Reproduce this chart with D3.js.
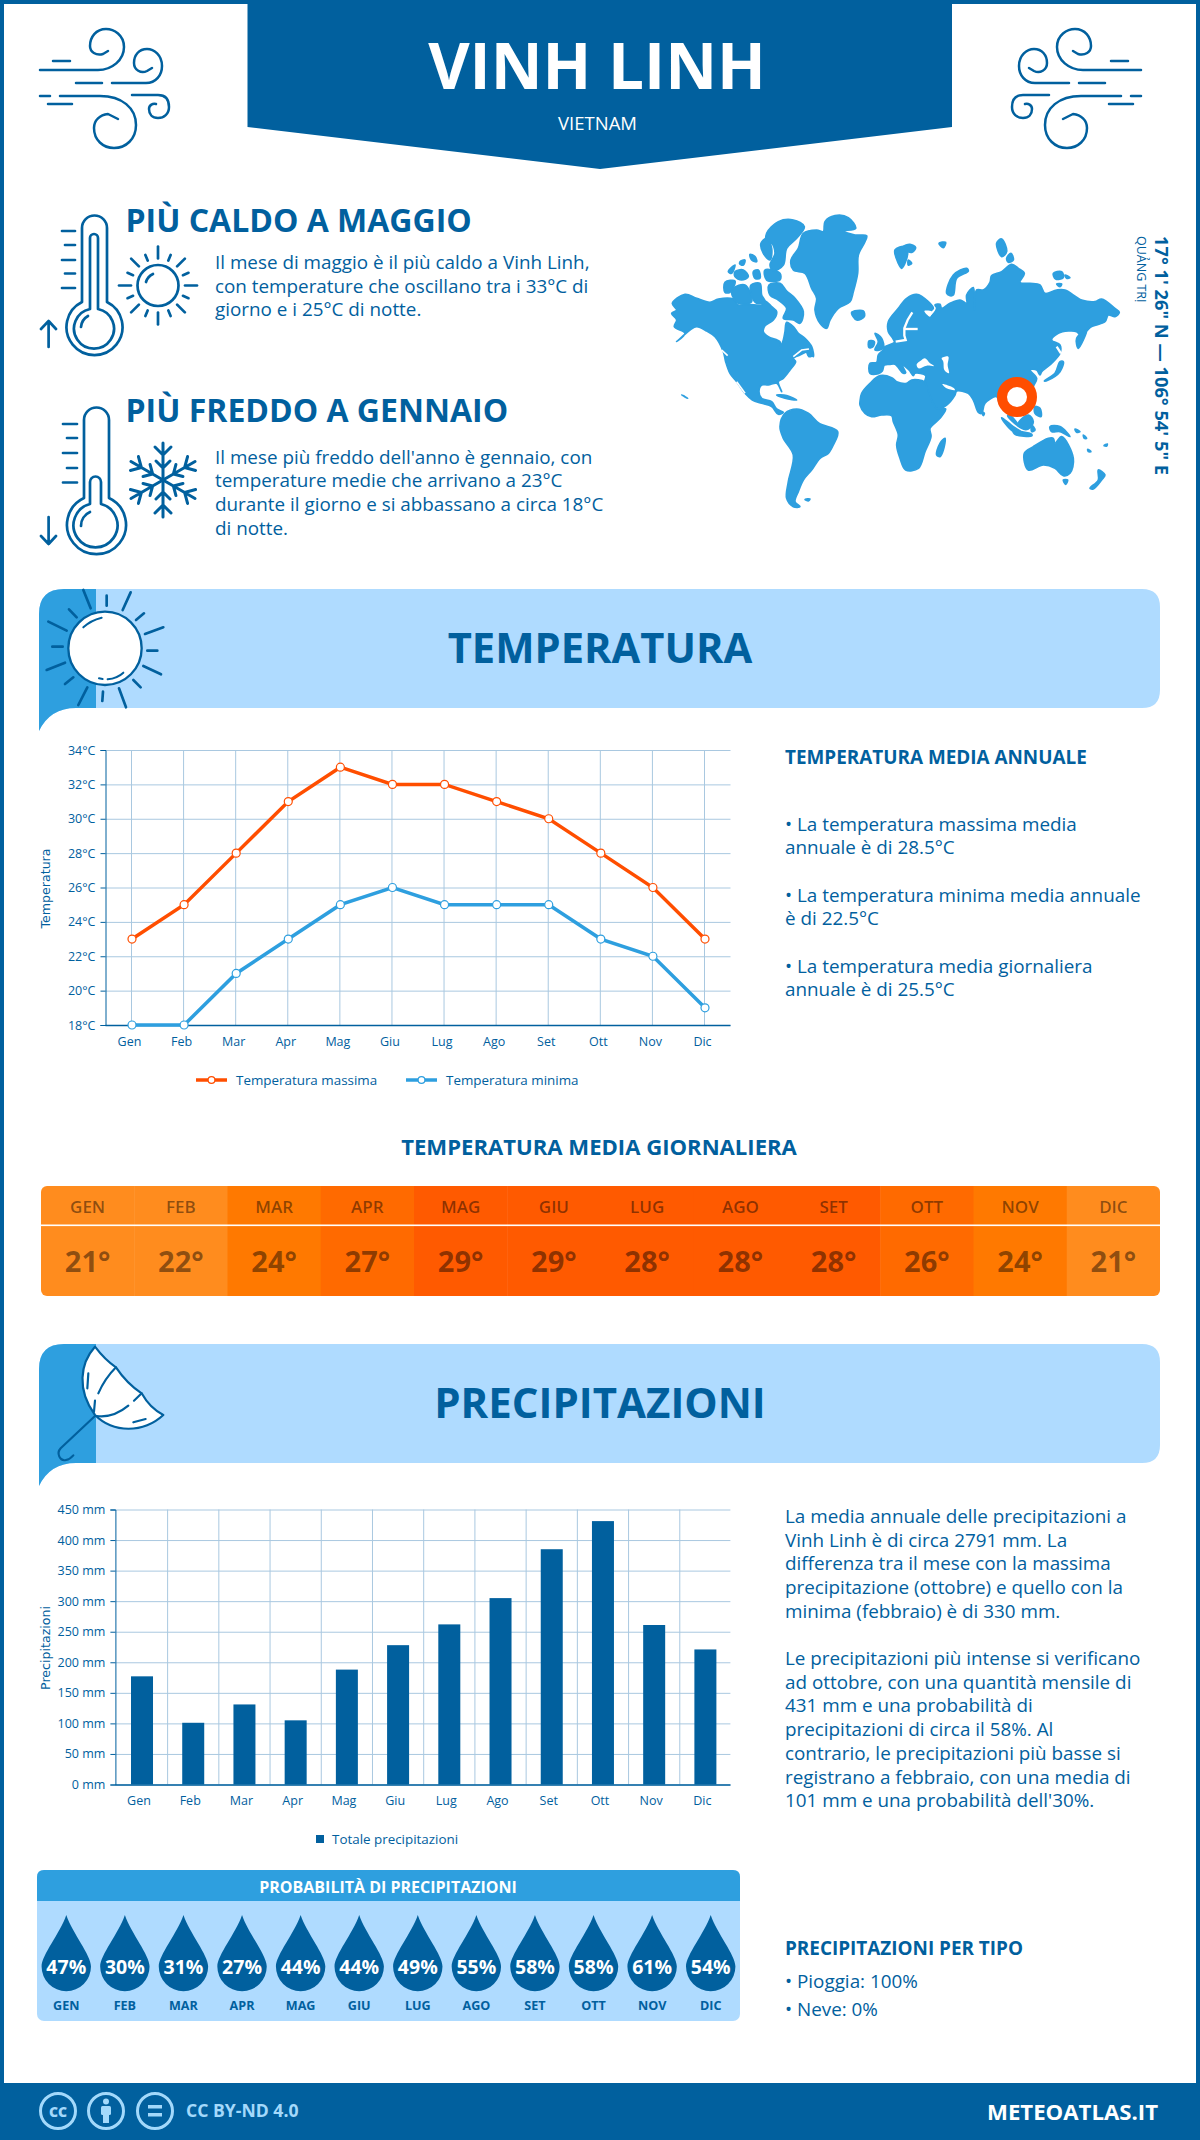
<!DOCTYPE html>
<html>
<head>
<meta charset="utf-8">
<title>Vinh Linh</title>
<script src="https://cdn.jsdelivr.net/npm/d3@7/dist/d3.min.js"></script>
<style>
  html, body { margin: 0; padding: 0; background: #fff; }
  svg { display: block; }
  text { font-family: "Open Sans", sans-serif; }
</style>
</head>
<body>
<svg id="page" width="1200" height="2140" viewBox="0 0 1200 2140"></svg>
<script>
// Data
const months = ['Gen', 'Feb', 'Mar', 'Apr', 'Mag', 'Giu', 'Lug', 'Ago', 'Set', 'Ott', 'Nov', 'Dic']
const tempMax = [23, 25, 28, 31, 33, 32, 32, 31, 30, 28, 26, 23]
const tempMin = [18, 18, 21, 23, 25, 26, 25, 25, 25, 23, 22, 19]
const tempDaily = [21, 22, 24, 27, 29, 29, 28, 28, 28, 26, 24, 21]
const rainTotal = [177, 101, 131, 105, 188, 228, 262, 305, 385, 431, 261, 221]
const rainChance = [47, 30, 31, 27, 44, 44, 49, 55, 58, 58, 61, 54]
const tempTicks = [18, 20, 22, 24, 26, 28, 30, 32, 34]
const rainTicks = [0, 50, 100, 150, 200, 250, 300, 350, 400, 450]

const hotText = ['Il mese di maggio è il più caldo a Vinh Linh,', 'con temperature che oscillano tra i 33°C di', 'giorno e i 25°C di notte.']
const coldText = ["Il mese più freddo dell'anno è gennaio, con", 'temperature medie che arrivano a 23°C', 'durante il giorno e si abbassano a circa 18°C', 'di notte.']
const annualText = [
  ['• La temperatura massima media', 'annuale è di 28.5°C'],
  ['• La temperatura minima media annuale', 'è di 22.5°C'],
  ['• La temperatura media giornaliera', 'annuale è di 25.5°C'],
]
const rainTextA = ['La media annuale delle precipitazioni a', 'Vinh Linh è di circa 2791 mm. La', 'differenza tra il mese con la massima', 'precipitazione (ottobre) e quello con la', 'minima (febbraio) è di 330 mm.']
const rainTextB = ['Le precipitazioni più intense si verificano', 'ad ottobre, con una quantità mensile di', '431 mm e una probabilità di', 'precipitazioni di circa il 58%. Al', 'contrario, le precipitazioni più basse si', 'registrano a febbraio, con una media di', "101 mm e una probabilità dell'30%."]

// Map outlines, in crop units (3 = 1px)
const landWest = [
  [[22,295],[60,268],[95,280],[135,292],[160,282],[205,282],[220,300],[250,298],[290,300],[300,288],[320,305],[335,320],[325,345],[300,362],[295,380],[310,395],[345,410],[345,428],[355,405],[360,380],[365,352],[385,365],[400,385],[420,400],[440,425],[445,455],[430,440],[405,450],[385,460],[392,470],[375,495],[355,520],[340,530],[350,560],[335,535],[310,540],[290,540],[282,560],[290,580],[320,590],[335,612],[355,622],[340,628],[320,605],[290,595],[262,585],[240,565],[215,530],[195,505],[182,470],[175,440],[150,395],[125,378],[95,365],[75,375],[35,410],[60,385],[28,365],[35,345],[20,325],[35,315]],
  [[312,240],[345,235],[365,258],[390,280],[415,320],[405,355],[385,345],[355,340],[365,310],[340,285],[315,270]],
  [[205,250],[240,240],[260,290],[220,295],[200,265]],
  [[180,232],[210,228],[195,262],[180,262]],
  [[258,240],[285,235],[290,270],[300,290],[275,295],[258,265]],
  [[305,85],[340,50],[385,45],[418,65],[395,100],[365,130],[355,180],[325,198],[315,180],[330,145],[320,115],[305,115]],
  [[288,115],[305,100],[320,130],[315,165],[295,145]],
  [[300,195],[345,205],[345,225],[305,225]],
  [[210,200],[235,195],[250,215],[230,225],[210,215]],
  [[190,200],[210,180],[200,205]],
  [[265,200],[280,195],[285,220],[270,220]],
  [[225,170],[240,165],[235,180],[225,178]],
  [[255,148],[270,155],[275,170],[260,165]],
  [[425,435],[445,450],[432,455]],
  [[378,165],[400,130],[415,85],[455,75],[475,80],[480,50],[510,32],[550,38],[572,70],[535,78],[570,90],[605,92],[600,110],[580,150],[578,205],[565,260],[555,290],[520,310],[495,345],[485,370],[465,355],[450,315],[455,280],[440,250],[420,205],[385,195]],
  [[560,322],[595,318],[598,335],[575,345]],
  [[345,665],[360,625],[395,612],[430,625],[462,655],[518,680],[505,720],[490,745],[465,760],[440,795],[415,825],[400,860],[390,890],[405,905],[385,905],[365,880],[370,830],[385,750],[355,700]],
  [[420,883],[435,882],[430,888]],
  [[335,570],[365,572],[395,585],[360,580]],
  [[50,570],[68,580],[60,575]],
]
const landEast = [
  [[-45,505],[-45,475],[-25,472],[-20,450],[-5,435],[0,425],[28,412],[22,398],[10,380],[10,350],[40,310],[65,280],[95,268],[130,290],[145,310],[130,320],[120,318],[135,335],[155,310],[150,300],[165,298],[170,310],[195,295],[225,285],[245,295],[245,270],[265,248],[268,315],[275,255],[295,255],[315,232],[320,212],[350,200],[380,178],[400,190],[418,205],[405,232],[435,235],[465,240],[480,265],[515,255],[540,255],[590,285],[630,290],[650,282],[690,310],[703,322],[690,335],[670,330],[660,350],[620,365],[605,378],[590,395],[575,380],[550,378],[520,385],[500,405],[525,420],[525,445],[500,475],[470,500],[465,510],[455,495],[435,495],[455,520],[445,545],[440,580],[450,590],[430,610],[380,625],[368,632],[395,660],[405,668],[385,640],[345,600],[335,575],[300,595],[290,625],[280,622],[265,585],[250,565],[215,558],[210,570],[185,600],[157,612],[125,550],[118,535],[122,512],[90,505],[85,512],[72,495],[50,478],[62,503],[55,505],[30,478],[15,478],[-2,480],[-8,498],[-20,506]],
  [[-75,590],[-70,565],[-45,535],[-15,512],[20,518],[35,530],[65,535],[80,525],[118,530],[125,545],[155,610],[182,612],[165,640],[135,670],[138,695],[120,740],[100,790],[62,795],[45,760],[35,720],[40,690],[25,650],[20,632],[-10,630],[-40,635],[-60,625],[-75,600]],
  [[165,715],[180,700],[175,735],[165,755],[155,750]],
  [[418,745],[445,725],[490,700],[505,700],[510,715],[530,695],[565,760],[555,805],[535,812],[510,790],[475,780],[430,795]],
  [[535,825],[548,825],[542,838]],
  [[640,795],[660,810],[650,825],[625,852],[615,850],[640,825]],
  [[478,528],[510,505],[525,470],[535,470],[525,500],[490,525]],
  [[575,400],[605,375],[595,405],[580,430]],
  [[350,638],[385,665],[420,688],[385,680],[360,655]],
  [[385,680],[440,688],[440,693],[390,688]],
  [[400,655],[430,630],[445,650],[430,672],[410,670]],
  [[440,660],[450,675],[440,680]],
  [[495,665],[525,665],[555,695],[525,680],[500,680]],
  [[450,605],[465,610],[468,635],[450,625]],
  [[290,620],[298,625],[295,632]],
  [[185,265],[205,210],[245,190],[250,198],[215,220],[205,270],[195,272]],
  [[30,135],[60,125],[68,145],[50,190],[40,175]],
  [[55,125],[75,118],[92,128],[80,142],[62,135]],
  [[70,165],[80,175],[70,180]],
  [[162,115],[182,112],[175,128]],
  [[335,115],[350,102],[365,140],[350,155]],
  [[365,160],[378,145],[385,165],[370,172]],
  [[505,205],[530,200],[535,218],[512,222]],
  [[540,210],[555,218],[545,220]],
  [[515,237],[530,237],[525,245]],
  [[-30,385],[-10,400],[-5,430],[-30,435],[-20,410]],
  [[-48,408],[-32,410],[-36,425],[-48,428]],
  [[570,672],[585,680],[575,682]],
  [[595,690],[605,700],[598,700]],
  [[608,733],[618,740],[610,740]],
  [[657,722],[667,717],[665,723]],
]
const seasEast = [
  [[95,478],[110,465],[120,460],[135,475],[147,483],[125,482],[100,490]],
  [[170,460],[190,455],[188,480],[192,505],[178,495],[175,470]],
  [[118,318],[140,320],[135,335]],
  [[172,537],[185,550],[210,555],[205,548]],
]
// narrow water drawn as strokes
const channelsEast = [
  [[82,322],[68,345],[58,370],[58,392],[62,405],[32,410]],
  [[58,372],[98,372]],
  [[515,425],[528,445]],
]
const channelsWest = [
  [[215,530],[240,565]],
  [[170,435],[188,452]],
  [[385,455],[410,435],[432,432]],
]

const BLUE = '#01609e'
const SKY = '#2e9fdf'
const PALE = '#afdbff'
const ORANGE = '#ff4e00'
const GRID = '#a9c8e0'

const svg = d3.select('#page')
svg.append('rect').attr('width', 1200).attr('height', 2140).attr('fill', '#fff')

/*----------------------------------------------------------------------------*/

const label = (parent, str, x, y, size, opts = {}) => parent.append('text')
  .attr('x', x)
  .attr('y', y)
  .attr('font-size', size)
  .attr('font-weight', opts.weight || 400)
  .attr('fill', opts.fill || BLUE)
  .attr('text-anchor', opts.anchor || 'start')
  .text(str)

const lines = (parent, rows, x, y, size, step) => rows.forEach((r, i) => label(parent, r, x, y + i * step, size))

const stroked = (parent, width = 2) => parent.append('g')
  .attr('fill', 'none')
  .attr('stroke', BLUE)
  .attr('stroke-width', width)
  .attr('stroke-linecap', 'round')
  .attr('stroke-linejoin', 'round')

/*---- header ----*/

svg.append('rect').attr('x', 2).attr('y', 2).attr('width', 1196).attr('height', 2136)
  .attr('fill', 'none').attr('stroke', BLUE).attr('stroke-width', 4)
svg.append('path').attr('d', 'M247.5 0H952V127L600 169L247.5 127Z').attr('fill', BLUE)
label(svg, 'VINH LINH', 597, 89, 63.8, { weight: 700, fill: '#fff', anchor: 'middle' })
label(svg, 'VIETNAM', 597.5, 130, 18.5, { fill: '#fff', anchor: 'middle' })

const drawWind = g => {
  g.append('path').attr('d', 'M40 70H98C112 70 124 60 124 47C124 35 114 29 106 29C96 29 90 37 90 46C90 52 96 56 103 54L108 51')
  g.append('path').attr('d', 'M53 61H70M76 83H102M40 96H50M48 104H72')
  g.append('path').attr('d', 'M112 83H146C156 83 162 75 162 66C162 55 154 49 147 49C139 49 134 55 134 63C134 70 141 74 147 71L152 68')
  g.append('path').attr('d', 'M60 96H100C122 96 136 108 136 125C136 139 126 148 114 148C103 148 94 140 94 128C94 120 100 115 108 114L118 119')
  g.append('path').attr('d', 'M132 95H158C166 95 169 100 169 107C169 114 164 118 158 118C152 118 149 114 149 109C149 105 153 103 156 104')
}
drawWind(stroked(svg, 2.5))
drawWind(stroked(svg, 2.5).attr('transform', 'translate(1181,0) scale(-1,1)'))

/*---- hottest / coldest ----*/

const hotIcon = stroked(svg, 2.7)
hotIcon.append('path').attr('d', 'M82 302V228A12.5 12.5 0 0 1 107 228V302A28 28 0 1 1 82 302Z')
hotIcon.append('path').attr('d', 'M90 309V238A4 4 0 0 1 98 238V309A20 20 0 1 1 90 309Z')
hotIcon.append('path').attr('d', 'M81 327A14 14 0 0 1 88 316')
hotIcon.append('path').attr('d', 'M62 231H75M65 245H75M62 260H75M65 273.5H75M62 288H75M48.6 347V321M41 329L48.6 321L56 329')
hotIcon.append('circle').attr('cx', 158).attr('cy', 285.5).attr('r', 20.5)
hotIcon.append('path').attr('d', 'M146 282A13 13 0 0 1 153 274')
d3.range(16).forEach(i => {
  const a = i * Math.PI / 8
  const outer = i % 4 === 0 ? 39 : (i % 2 === 0 ? 38 : 33)
  hotIcon.append('line')
    .attr('x1', 158 + 27 * Math.cos(a)).attr('y1', 285.5 + 27 * Math.sin(a))
    .attr('x2', 158 + outer * Math.cos(a)).attr('y2', 285.5 + outer * Math.sin(a))
})

const coldIcon = stroked(svg, 2.7)
coldIcon.append('path').attr('d', 'M84 498V420A12.5 12.5 0 0 1 109 420V498A29.5 29.5 0 1 1 84 498Z')
coldIcon.append('path').attr('d', 'M90 504V482A5.5 5.5 0 0 1 101 482V504A22 22 0 1 1 90 504Z')
coldIcon.append('path').attr('d', 'M81 526A15 15 0 0 1 90 512')
coldIcon.append('path').attr('d', 'M63 424H77M67 438H77M63 453H77M67 468H77M63 482.5H77M48.6 517V544M41 536L48.6 544L56 536')
d3.range(6).forEach(i => {
  const arm = coldIcon.append('g').attr('transform', `translate(163,480) rotate(${i * 60})`).attr('stroke-width', 3)
  arm.append('path').attr('d', 'M0 0V-37M-8 -33L0 -25L8 -33M-7 -19L0 -12L7 -19')
})

label(svg, 'PIÙ CALDO A MAGGIO', 125.5, 232, 32, { weight: 700 })
lines(svg, hotText, 215, 269, 18.85, 23.7)
label(svg, 'PIÙ FREDDO A GENNAIO', 125.5, 422, 32, { weight: 700 })
lines(svg, coldText, 215, 463.5, 18.85, 23.7)

/*---- world map ----*/

const ring = d3.line().curve(d3.curveCatmullRomClosed.alpha(0.5))
const open = d3.line()
const mapW = svg.append('g').attr('transform', 'translate(665,205) scale(0.3333)')
const mapE = svg.append('g').attr('transform', 'translate(885,205) scale(0.3333)')
mapW.selectAll('path.land').data(landWest).enter().append('path').attr('class', 'land').attr('d', ring)
  .attr('fill', SKY).attr('stroke', SKY).attr('stroke-width', 5).attr('stroke-linejoin', 'round')
mapW.selectAll('path.channel').data(channelsWest).enter().append('path').attr('class', 'channel').attr('d', open)
  .attr('fill', 'none').attr('stroke', '#fff').attr('stroke-width', 5)
mapE.selectAll('path.land').data(landEast).enter().append('path').attr('class', 'land').attr('d', ring)
  .attr('fill', SKY).attr('stroke', SKY).attr('stroke-width', 5).attr('stroke-linejoin', 'round')
mapE.selectAll('path.sea').data(seasEast).enter().append('path').attr('class', 'sea').attr('d', ring).attr('fill', '#fff')
mapE.selectAll('path.channel').data(channelsEast).enter().append('path').attr('class', 'channel').attr('d', open)
  .attr('fill', 'none').attr('stroke', '#fff').attr('stroke-width', 7)
svg.append('circle').attr('cx', 1017).attr('cy', 397).attr('r', 15)
  .attr('fill', '#fff').attr('stroke', ORANGE).attr('stroke-width', 10)

label(svg, '17° 1\' 26" N — 106° 54\' 5" E', 0, 0, 18.3, { weight: 700 })
  .attr('transform', 'translate(1155,236) rotate(90)')
label(svg, 'QUẢNG TRỊ', 0, 0, 12.5)
  .attr('transform', 'translate(1137,236) rotate(90)')

/*---- banners ----*/

const banner = (top, title, clipId, size) => {
  const g = svg.append('g').attr('transform', `translate(0,${top})`)
  const d = 'M39 142V25Q39 0 64 0H1142Q1160 0 1160 18V101Q1160 119 1142 119H76Q50 119 39 142Z'
  g.append('clipPath').attr('id', clipId).append('path').attr('d', d)
  g.append('path').attr('d', d).attr('fill', PALE)
  g.append('rect').attr('x', 39).attr('y', 0).attr('width', 57).attr('height', 142)
    .attr('fill', SKY).attr('clip-path', `url(#${clipId})`)
  label(g, title, 600, 74, size, { weight: 700, anchor: 'middle' })
  return g
}

const sunBanner = banner(589, 'TEMPERATURA', 'clipTemp', 41.7)
const sunIcon = stroked(sunBanner, 2).attr('transform', 'translate(30,-4) scale(0.3333)').attr('stroke-width', 8)
sunIcon.append('circle').attr('cx', 225).attr('cy', 190).attr('r', 110).attr('fill', '#fff').attr('stroke-width', 7)
const sunRays = [[160,15,182,70],[230,32,230,62],[302,22,278,75],[342,85,318,105],[400,127,345,147],[382,197,352,197],[393,268,340,243],[332,307,310,285],[288,367,267,310],[217,348,219,320],[145,360,172,307],[105,297,130,277],[50,255,105,233],[98,185,67,185],[110,137,55,110],[140,97,117,73]]
sunIcon.selectAll('line').data(sunRays).enter().append('line')
  .attr('x1', d => d[0]).attr('y1', d => d[1]).attr('x2', d => d[2]).attr('y2', d => d[3])
sunIcon.append('path').attr('d', 'M160 127Q182 106 215 98M233 283Q262 280 280 263M207 280L218 282').attr('stroke-width', 6)

const rainBanner = banner(1344, 'PRECIPITAZIONI', 'clipRain', 42)
const brolly = stroked(rainBanner, 2).attr('transform', 'translate(30,-4) scale(0.3333)').attr('stroke-width', 6.5)
brolly.append('path').attr('fill', '#fff')
  .attr('d', 'M195 20Q225 60 258 82Q290 130 335 160Q360 205 400 225C340 280 250 280 195 225C140 150 150 70 195 20Z')
brolly.append('path').attr('d', 'M258 82Q225 115 205 160M195 182L192 215M335 160L312 182M295 197C265 222 230 232 200 228M175 100L172 145M310 247L347 237')
brolly.append('path').attr('d', 'M195 228L92 325C78 340 90 365 108 360C118 358 125 352 130 346')

/*---- temperature chart ----*/

const tempX = d3.scalePoint().domain(months).range([132, 705])
const tempY = d3.scaleLinear().domain([18, 34]).range([1025, 750])

const styleAxis = g => {
  g.selectAll('text').attr('fill', BLUE).attr('font-size', 12.5).attr('font-family', '"Open Sans", sans-serif')
  g.selectAll('.tick line').attr('stroke', BLUE)
  g.select('.domain').attr('stroke', BLUE)
}

svg.append('g').attr('transform', 'translate(105.5,0)')
  .call(d3.axisLeft(tempY).tickValues(tempTicks).tickSize(-625).tickFormat(''))
  .call(g => g.select('.domain').remove())
  .call(g => g.selectAll('line').attr('stroke', GRID))
svg.append('g').attr('transform', 'translate(-1,750)')
  .call(d3.axisBottom(tempX).tickSize(275).tickFormat(''))
  .call(g => g.select('.domain').remove())
  .call(g => g.selectAll('line').attr('stroke', GRID))
svg.append('g').attr('transform', 'translate(105.5,0)')
  .call(d3.axisLeft(tempY).tickValues(tempTicks).tickSize(5).tickPadding(5).tickFormat(d => `${d}°C`))
  .call(styleAxis)
svg.append('g').attr('transform', 'translate(-3,1025)')
  .call(d3.axisBottom(tempX).tickSize(0).tickPadding(12))
  .call(styleAxis)
  .call(g => g.select('.domain').remove())
svg.append('line').attr('x1', 105.5).attr('x2', 730.5).attr('y1', 1025.5).attr('y2', 1025.5)
  .attr('stroke', BLUE).attr('stroke-width', 1.5)

const tempLine = d3.line().x((d, i) => tempX(months[i])).y(d => tempY(d))
const series = [[tempMax, ORANGE], [tempMin, SKY]]
series.forEach(([values, colour]) => {
  svg.append('path').datum(values).attr('d', tempLine)
    .attr('fill', 'none').attr('stroke', colour).attr('stroke-width', 3.5)
  svg.append('g').selectAll('circle').data(values).enter().append('circle')
    .attr('cx', (d, i) => tempX(months[i])).attr('cy', d => tempY(d)).attr('r', 4)
    .attr('fill', '#fff').attr('stroke', colour).attr('stroke-width', 1.2)
})

label(svg, 'Temperatura', 0, 0, 12.6, { anchor: 'middle' })
  .style('font-family', '"DejaVu Sans"')
  .attr('transform', 'translate(50,888.5) rotate(-90)')

const legendItems = [['Temperatura massima', ORANGE, 196], ['Temperatura minima', SKY, 406]]
legendItems.forEach(([name, colour, x]) => {
  svg.append('line').attr('x1', x).attr('x2', x + 31).attr('y1', 1080).attr('y2', 1080)
    .attr('stroke', colour).attr('stroke-width', 3.5)
  svg.append('circle').attr('cx', x + 15.5).attr('cy', 1080).attr('r', 3.4)
    .attr('fill', '#fff').attr('stroke', colour).attr('stroke-width', 1.2)
  label(svg, name, x + 40, 1084.5, 13.4)
})

/*---- annual text ----*/

label(svg, 'TEMPERATURA MEDIA ANNUALE', 785, 764, 18.9, { weight: 700 })
annualText.forEach((rows, i) => lines(svg, rows, 785, 830.7 + i * 71, 18.85, 23.7))

/*---- daily table ----*/

label(svg, 'TEMPERATURA MEDIA GIORNALIERA', 599, 1155, 22.1, { weight: 700, anchor: 'middle' })

const cellX = d3.scaleBand().domain(months).range([41, 1160])
const heat = d3.scaleThreshold().domain([24, 26, 28]).range(['#ff8c1e', '#ff7900', '#ff6a00', '#ff5a00'])

svg.append('clipPath').attr('id', 'clipTable').append('rect')
  .attr('x', 41).attr('y', 1186).attr('width', 1119).attr('height', 110).attr('rx', 6)
const table = svg.append('g').attr('clip-path', 'url(#clipTable)')
table.selectAll('rect.cell').data(tempDaily).enter().append('rect').attr('class', 'cell')
  .attr('x', (d, i) => cellX(months[i])).attr('y', 1186)
  .attr('width', cellX.bandwidth() + 0.5).attr('height', 110)
  .attr('fill', d => heat(d))
table.append('rect').attr('x', 41).attr('y', 1224.5).attr('width', 1119).attr('height', 1.6).attr('fill', '#fff')
table.selectAll('text.month').data(months).enter().append('text').attr('class', 'month')
  .attr('x', d => cellX(d) + cellX.bandwidth() / 2).attr('y', 1212.5)
  .attr('text-anchor', 'middle').attr('font-size', 17).attr('font-weight', 600)
  .attr('fill', '#000').attr('fill-opacity', 0.45)
  .text(d => d.toUpperCase())
table.selectAll('text.value').data(tempDaily).enter().append('text').attr('class', 'value')
  .attr('x', (d, i) => cellX(months[i]) + cellX.bandwidth() / 2).attr('y', 1271.5)
  .attr('text-anchor', 'middle').attr('font-size', 29).attr('font-weight', 700)
  .attr('fill', '#000').attr('fill-opacity', 0.45)
  .text(d => `${d}°`)

/*---- rain chart ----*/

const rainX = d3.scaleBand().domain(months).range([116.4, 731]).paddingInner(0).paddingOuter(0)
const rainY = d3.scaleLinear().domain([0, 450]).range([1784.5, 1509.5])

svg.append('g').attr('transform', 'translate(115.4,0)')
  .call(d3.axisLeft(rainY).tickValues(rainTicks).tickSize(-615).tickFormat(''))
  .call(g => g.select('.domain').remove())
  .call(g => g.selectAll('line').attr('stroke', GRID))
svg.append('g').selectAll('line').data(months.slice(1)).enter().append('line')
  .attr('x1', d => rainX(d)).attr('x2', d => rainX(d))
  .attr('y1', 1509.5).attr('y2', 1784.5).attr('stroke', GRID)

const barWidth = 22
svg.append('g').selectAll('rect').data(rainTotal).enter().append('rect')
  .attr('x', (d, i) => rainX(months[i]) + rainX.bandwidth() / 2 - barWidth / 2)
  .attr('y', d => rainY(d))
  .attr('width', barWidth)
  .attr('height', d => rainY(0) - rainY(d))
  .attr('fill', BLUE)

svg.append('g').attr('transform', 'translate(115.4,0)')
  .call(d3.axisLeft(rainY).tickValues(rainTicks).tickSize(5).tickPadding(5).tickFormat(d => `${d} mm`))
  .call(styleAxis)
svg.append('g').attr('transform', 'translate(-3,1784.5)')
  .call(d3.axisBottom(rainX).tickSize(0).tickPadding(12))
  .call(styleAxis)
  .call(g => g.select('.domain').remove())
svg.append('line').attr('x1', 115.4).attr('x2', 730.5).attr('y1', 1785).attr('y2', 1785)
  .attr('stroke', BLUE).attr('stroke-width', 1.5)

label(svg, 'Precipitazioni', 0, 0, 12.6, { anchor: 'middle' })
  .style('font-family', '"DejaVu Sans"')
  .attr('transform', 'translate(50,1648) rotate(-90)')

svg.append('rect').attr('x', 316).attr('y', 1835).attr('width', 8).attr('height', 8).attr('fill', BLUE)
label(svg, 'Totale precipitazioni', 332, 1843.5, 13.4)

lines(svg, rainTextA, 785, 1523, 18.85, 23.7)
lines(svg, rainTextB, 785, 1665, 18.85, 23.7)

/*---- rain chance ----*/

const chanceX = d3.scaleBand().domain(months).range([37, 740])

svg.append('rect').attr('x', 37).attr('y', 1870).attr('width', 703).attr('height', 151).attr('rx', 7).attr('fill', PALE)
svg.append('path').attr('d', 'M37 1901V1877Q37 1870 44 1870H733Q740 1870 740 1877V1901Z').attr('fill', SKY)
label(svg, 'PROBABILITÀ DI PRECIPITAZIONI', 388, 1892.5, 16, { weight: 700, fill: '#fff', anchor: 'middle' })

const drop = svg.append('g').selectAll('g').data(rainChance).enter().append('g')
  .attr('transform', (d, i) => `translate(${chanceX(months[i]) + chanceX.bandwidth() / 2},1915)`)
drop.append('path')
  .attr('d', 'M0 0C6 18 24.7 40 24.7 51.5A24.7 24.7 0 1 1 -24.7 51.5C-24.7 40 -6 18 0 0Z')
  .attr('fill', BLUE)
drop.append('text').attr('y', 59).attr('text-anchor', 'middle')
  .attr('font-size', 19.5).attr('font-weight', 700).attr('fill', '#fff')
  .text(d => `${d}%`)
svg.append('g').selectAll('text').data(months).enter().append('text')
  .attr('x', d => chanceX(d) + chanceX.bandwidth() / 2).attr('y', 2010)
  .attr('text-anchor', 'middle').attr('font-size', 12.6).attr('font-weight', 700).attr('fill', BLUE)
  .text(d => d.toUpperCase())

label(svg, 'PRECIPITAZIONI PER TIPO', 785, 1955, 18.9, { weight: 700 })
label(svg, '• Pioggia: 100%', 785, 1988, 18.85)
label(svg, '• Neve: 0%', 785, 2016, 18.85)

/*---- footer ----*/

svg.append('rect').attr('x', 0).attr('y', 2083).attr('width', 1200).attr('height', 57).attr('fill', BLUE)
const badge = '#a3d9fb'
const badges = svg.append('g').attr('fill', 'none').attr('stroke', badge).attr('stroke-width', 3)
;[58, 106, 155].forEach(cx => badges.append('circle').attr('cx', cx).attr('cy', 2111).attr('r', 17.5))
label(svg, 'CC', 58, 2116.5, 14, { weight: 800, fill: badge, anchor: 'middle' })
svg.append('circle').attr('cx', 106).attr('cy', 2101.5).attr('r', 3).attr('fill', badge)
svg.append('rect').attr('x', 101).attr('y', 2106).attr('width', 10).attr('height', 9).attr('rx', 1.5).attr('fill', badge)
svg.append('rect').attr('x', 103).attr('y', 2112).attr('width', 6).attr('height', 11).attr('fill', badge)
svg.append('rect').attr('x', 148).attr('y', 2105).attr('width', 14).attr('height', 3.5).attr('fill', badge)
svg.append('rect').attr('x', 148).attr('y', 2113).attr('width', 14).attr('height', 3.5).attr('fill', badge)
label(svg, 'CC BY-ND 4.0', 186, 2117, 17.6, { weight: 700, fill: badge })
label(svg, 'METEOATLAS.IT', 1158, 2120, 22.2, { weight: 700, fill: '#fff', anchor: 'end' })
</script>
</body>
</html>
